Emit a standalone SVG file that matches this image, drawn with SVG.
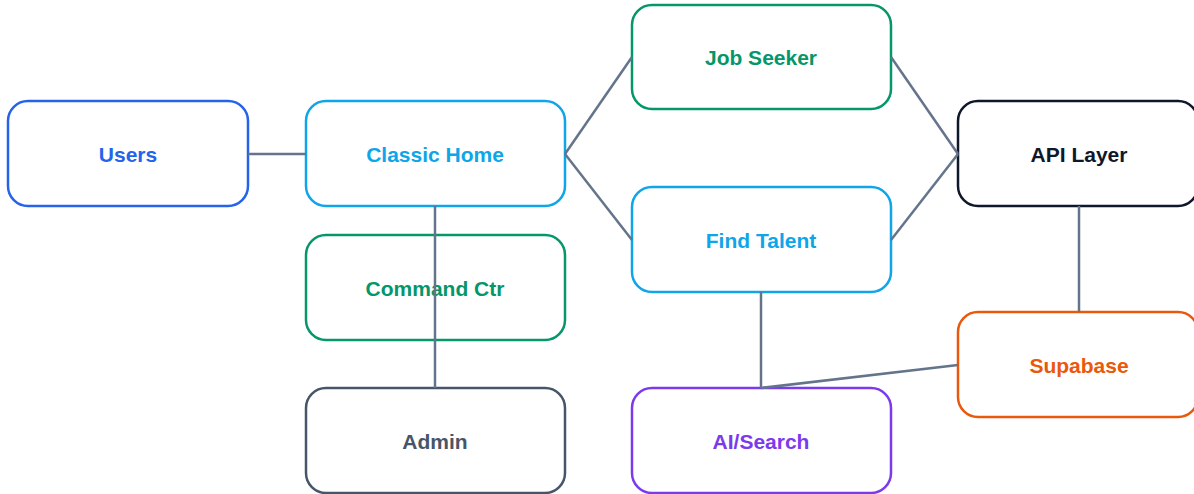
<svg xmlns="http://www.w3.org/2000/svg" width="1194" height="494" viewBox="0 0 1194 494">
<style>
.n{fill:#ffffff;stroke-width:2.5}
.t{font-family:"Liberation Sans",Arial,sans-serif;font-weight:bold;font-size:21px;text-anchor:middle;dominant-baseline:central}
.c{stroke:#64748b;stroke-width:2.5;fill:none}
</style>
<rect width="1194" height="494" fill="#ffffff"/>
<g id="users"><rect class="n" x="8" y="101" width="240" height="105" rx="20" stroke="#2563eb"/><text class="t" x="128" y="154" fill="#2563eb">Users</text></g>
<g id="classic-home"><rect class="n" x="306" y="101" width="259" height="105" rx="20" stroke="#0ea5e9"/><text class="t" x="435" y="154" fill="#0ea5e9">Classic Home</text></g>
<g id="command-ctr"><rect class="n" x="306" y="235" width="259" height="105" rx="20" stroke="#059669"/><text class="t" x="435" y="288" fill="#059669">Command Ctr</text></g>
<g id="admin"><rect class="n" x="306" y="388" width="259" height="105" rx="20" stroke="#475569"/><text class="t" x="435" y="441" fill="#475569">Admin</text></g>
<g id="job-seeker"><rect class="n" x="632" y="5" width="259" height="104" rx="20" stroke="#059669"/><text class="t" x="761" y="57" fill="#059669">Job Seeker</text></g>
<g id="find-talent"><rect class="n" x="632" y="187" width="259" height="105" rx="20" stroke="#0ea5e9"/><text class="t" x="761" y="240" fill="#0ea5e9">Find Talent</text></g>
<g id="ai-search"><rect class="n" x="632" y="388" width="259" height="105" rx="20" stroke="#7c3aed"/><text class="t" x="761" y="441" fill="#7c3aed">AI/Search</text></g>
<g id="api-layer"><rect class="n" x="958" y="101" width="240" height="105" rx="20" stroke="#0f172a"/><text class="t" x="1079" y="154" fill="#0f172a">API Layer</text></g>
<g id="supabase"><rect class="n" x="958" y="312" width="240" height="105" rx="20" stroke="#ea580c"/><text class="t" x="1079" y="365" fill="#ea580c">Supabase</text></g>
<g id="connectors">
<line class="c" x1="248" y1="154" x2="306" y2="154"/>
<line class="c" x1="565" y1="154" x2="632" y2="57"/>
<line class="c" x1="565" y1="154" x2="632" y2="240"/>
<line class="c" x1="891" y1="57" x2="958" y2="154"/>
<line class="c" x1="891" y1="240" x2="958" y2="154"/>
<line class="c" x1="435" y1="206" x2="435" y2="388"/>
<line class="c" x1="1079" y1="206" x2="1079" y2="312"/>
<line class="c" x1="761" y1="292" x2="761" y2="388"/>
<line class="c" x1="958" y1="365" x2="761" y2="388"/>
</g>
</svg>
